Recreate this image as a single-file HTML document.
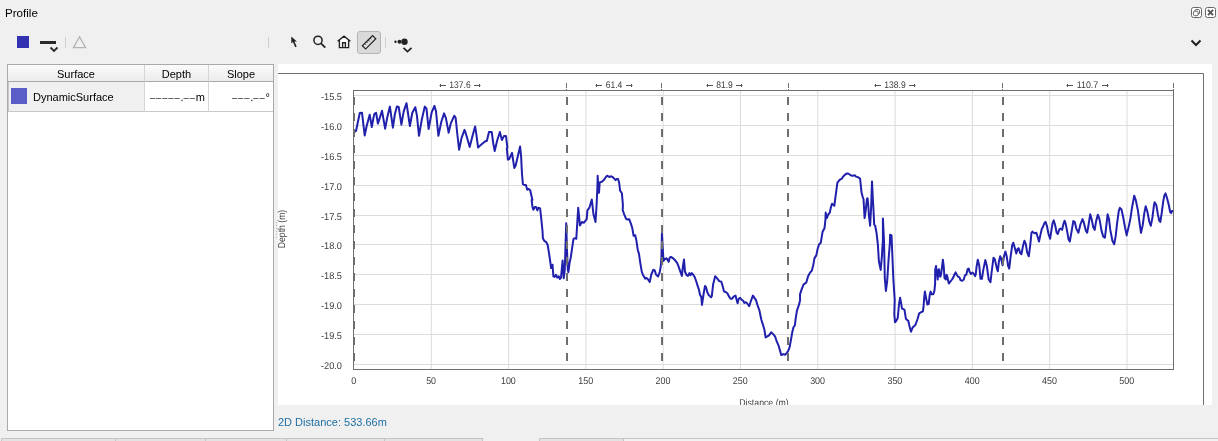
<!DOCTYPE html>
<html><head><meta charset="utf-8">
<style>
*{margin:0;padding:0;box-sizing:border-box}
html,body{width:1218px;height:441px;overflow:hidden;background:#f0f0f0;font-family:"Liberation Sans",sans-serif;color:#000}
.abs{position:absolute}
#title{left:5px;top:6px;font-size:11.6px;line-height:14px}
#left{left:7px;top:64px;width:267px;height:367px;border:1px solid #a9a9a9;background:#fff}
#plotbg{left:278px;top:64px;width:934px;height:341px;background:#fff}
#dist{left:278px;top:415px;font-size:11px;line-height:14px;color:#1f6fa3}
.th{position:absolute;top:0;height:17px;font-size:11px;line-height:18px;text-align:center;border-right:1px solid #d5d5d5;border-bottom:1px solid #a9a9a9;background:linear-gradient(#fbfbfb,#ececec)}
.dd{font-size:9.4px;letter-spacing:0.9px;position:relative;top:0px;color:#000}
.td{position:absolute;top:17px;height:30px;font-size:11px;line-height:30px;border-right:1px solid #d5d5d5;border-bottom:1px solid #c8c8c8}
</style></head><body>
<div class="abs" id="title">Profile</div>

<!-- toolbar left -->
<div class="abs" style="left:17px;top:36px;width:12px;height:12px;background:#3232b2"></div>
<div class="abs" style="left:40px;top:41px;width:16px;height:3px;background:#2a2a2a"></div>
<svg class="abs" style="left:48px;top:45px" width="14" height="9"><polyline points="2.5,2.5 6,6 9.5,2.5" fill="none" stroke="#2a2a2a" stroke-width="1.8"/></svg>
<div class="abs" style="left:65px;top:37px;width:1px;height:11px;background:#d0d0d0"></div>
<svg class="abs" style="left:72px;top:35px" width="16" height="15"><polygon points="7.5,1.8 13.6,12.6 1.4,12.6" fill="none" stroke="#b4b4b4" stroke-width="1.3"/></svg>
<div class="abs" style="left:268px;top:37px;width:1px;height:11px;background:#d0d0d0"></div>

<!-- toolbar right tools -->
<svg class="abs" style="left:286px;top:33px" width="16" height="18"><path d="M5.3,3.6 L5.3,10.6 L6.9,9.1 L9.2,14.3 L10.7,13.6 L8.4,8.6 L10.9,8.4 Z" fill="#222"/></svg>
<svg class="abs" style="left:310.5px;top:33px" width="18" height="18"><circle cx="7" cy="7.3" r="4.1" fill="none" stroke="#222" stroke-width="1.5"/><line x1="10" y1="10.3" x2="14.3" y2="14.6" stroke="#222" stroke-width="1.8"/></svg>
<svg class="abs" style="left:335px;top:33px" width="18" height="18"><path d="M4.3,8.5 L9,4 L13.7,8.5 V14.6 H4.3 Z" fill="#fff"/><path d="M2.6,8.3 L9,3.2 L15.4,8.3 M4.4,7.2 L4.4,14.6 L13.6,14.6 L13.6,7.2 M7.6,14.6 L7.6,9.8 L10.4,9.8 L10.4,14.6" fill="none" stroke="#222" stroke-width="1.4" stroke-linejoin="miter"/></svg>
<div class="abs" style="left:357px;top:31px;width:24px;height:23px;background:#dadada;border:1px solid #b5b5b5;border-radius:3px"></div>
<svg class="abs" style="left:358px;top:32px" width="22" height="21"><g transform="rotate(-45 11 10.2)"><rect x="3.8" y="8" width="14.4" height="4.6" fill="none" stroke="#222" stroke-width="1.2"/><path d="M6.8,8 v1.6 M9.4,8 v1.6 M12,8 v2 M14.6,8 v1.6" stroke="#222" stroke-width="0.9"/></g></svg>
<div class="abs" style="left:385px;top:37px;width:1px;height:11px;background:#d0d0d0"></div>
<svg class="abs" style="left:392px;top:35px" width="24" height="20"><circle cx="3.5" cy="6.8" r="1.2" fill="#222"/><circle cx="7.5" cy="6.8" r="2" fill="#222"/><circle cx="12.5" cy="6.8" r="3.2" fill="#222"/><polyline points="11.5,12.8 15.5,16.5 19.5,12.8" fill="none" stroke="#222" stroke-width="1.7"/></svg>

<!-- top right window icons -->
<svg class="abs" style="left:1190px;top:6px" width="28" height="13">
 <rect x="1.5" y="1.5" width="10" height="10" rx="2" fill="#fff" stroke="#666" stroke-width="1"/>
 <rect x="5" y="3.5" width="4.5" height="4.5" rx="1" fill="#fff" stroke="#666" stroke-width="1"/>
 <rect x="3.5" y="5.2" width="4.5" height="4.5" rx="1" fill="#fff" stroke="#666" stroke-width="1"/>
 <rect x="15.5" y="1.5" width="10" height="10" rx="2" fill="#fff" stroke="#666" stroke-width="1"/>
 <path d="M17.9,3.9 L23.1,9.1 M23.1,3.9 L17.9,9.1" stroke="#555" stroke-width="2"/>
</svg>
<svg class="abs" style="left:1189px;top:36.5px" width="16" height="12"><polyline points="2.5,3.5 7,8 11.5,3.5" fill="none" stroke="#222" stroke-width="2"/></svg>

<!-- left table panel -->
<div class="abs" id="left">
 <div class="th" style="left:0;width:137px">Surface</div>
 <div class="th" style="left:137px;width:64px">Depth</div>
 <div class="th" style="left:201px;width:64px;border-right:none">Slope</div>
 <div class="td" style="left:0;width:137px;background:#f0f0f0;border-left:1px solid #c8c8c8"></div>
 <div class="abs" style="left:3px;top:23px;width:16px;height:16px;background:#5a5ec6"></div>
 <div class="abs" style="left:25px;top:25px;font-size:11px;line-height:14px">DynamicSurface</div>
 <div class="td" style="left:137px;width:64px;text-align:right;padding-right:3px"><span class="dd">–––––</span>.<span class="dd">––</span>m</div>
 <div class="td" style="left:201px;width:64px;text-align:right;padding-right:3px;border-right:none"><span class="dd">–––</span>.<span class="dd">––</span>°</div>
</div>

<div class="abs" id="plotbg"></div>
<div class="abs" style="left:276px;top:222px;width:1px;height:1px;background:#b8b8b8"></div><div class="abs" style="left:276px;top:225px;width:1px;height:1px;background:#b8b8b8"></div><div class="abs" style="left:276px;top:228px;width:1px;height:1px;background:#b8b8b8"></div><div class="abs" style="left:276px;top:231px;width:1px;height:1px;background:#b8b8b8"></div><div class="abs" style="left:276px;top:234px;width:1px;height:1px;background:#b8b8b8"></div><div class="abs" style="left:276px;top:237px;width:1px;height:1px;background:#b8b8b8"></div>
<div class="abs" id="dist">2D Distance: 533.66m</div>

<!-- bottom tabs -->
<div class="abs" style="left:1px;top:438px;width:482px;height:3px;background:#e3e3e3;border-top:1px solid #c4c4c4"></div>
<div class="abs" style="left:115px;top:438px;width:1px;height:3px;background:#c4c4c4"></div>
<div class="abs" style="left:205px;top:438px;width:1px;height:3px;background:#c4c4c4"></div>
<div class="abs" style="left:286px;top:438px;width:1px;height:3px;background:#c4c4c4"></div>
<div class="abs" style="left:384px;top:438px;width:1px;height:3px;background:#c4c4c4"></div>
<div class="abs" style="left:1px;top:438px;width:1px;height:3px;background:#c4c4c4"></div>
<div class="abs" style="left:482px;top:438px;width:1px;height:3px;background:#c4c4c4"></div>
<div class="abs" style="left:539px;top:438px;width:85px;height:3px;background:#e3e3e3;border-top:1px solid #c4c4c4;border-left:1px solid #c4c4c4;border-right:1px solid #c4c4c4"></div>
<div class="abs" style="left:624px;top:438px;width:594px;height:3px;background:#f2f2f2;border-top:1px solid #c4c4c4"></div>

<!-- PLOT -->
<svg class="abs" id="plot" style="left:0;top:0" width="1218" height="405" font-family="Liberation Sans, sans-serif" text-rendering="geometricPrecision">
<path d="M278,73.5 H1203.5 V405" fill="none" stroke="#6e6e6e" stroke-width="1"/>
<path d="M431.30,90.5 V369.5 M508.60,90.5 V369.5 M585.90,90.5 V369.5 M663.20,90.5 V369.5 M740.50,90.5 V369.5 M817.80,90.5 V369.5 M895.10,90.5 V369.5 M972.40,90.5 V369.5 M1049.70,90.5 V369.5 M1127.00,90.5 V369.5 M353.5,95.5 H1173.5 M353.5,125.5 H1173.5 M353.5,155.5 H1173.5 M353.5,185.5 H1173.5 M353.5,215.5 H1173.5 M353.5,244.5 H1173.5 M353.5,274.5 H1173.5 M353.5,304.5 H1173.5 M353.5,334.5 H1173.5 M353.5,364.5 H1173.5" stroke="#dcdcdc" stroke-width="1" fill="none"/>
<text x="342" y="100.1" text-anchor="end" font-size="9.8" fill="#3c3c3c" textLength="21" lengthAdjust="spacingAndGlyphs">-15.5</text>
<text x="342" y="130.1" text-anchor="end" font-size="9.8" fill="#3c3c3c" textLength="21" lengthAdjust="spacingAndGlyphs">-16.0</text>
<text x="342" y="160.1" text-anchor="end" font-size="9.8" fill="#3c3c3c" textLength="21" lengthAdjust="spacingAndGlyphs">-16.5</text>
<text x="342" y="190.1" text-anchor="end" font-size="9.8" fill="#3c3c3c" textLength="21" lengthAdjust="spacingAndGlyphs">-17.0</text>
<text x="342" y="220.1" text-anchor="end" font-size="9.8" fill="#3c3c3c" textLength="21" lengthAdjust="spacingAndGlyphs">-17.5</text>
<text x="342" y="249.1" text-anchor="end" font-size="9.8" fill="#3c3c3c" textLength="21" lengthAdjust="spacingAndGlyphs">-18.0</text>
<text x="342" y="279.1" text-anchor="end" font-size="9.8" fill="#3c3c3c" textLength="21" lengthAdjust="spacingAndGlyphs">-18.5</text>
<text x="342" y="309.1" text-anchor="end" font-size="9.8" fill="#3c3c3c" textLength="21" lengthAdjust="spacingAndGlyphs">-19.0</text>
<text x="342" y="339.1" text-anchor="end" font-size="9.8" fill="#3c3c3c" textLength="21" lengthAdjust="spacingAndGlyphs">-19.5</text>
<text x="342" y="369.1" text-anchor="end" font-size="9.8" fill="#3c3c3c" textLength="21" lengthAdjust="spacingAndGlyphs">-20.0</text>
<text x="353.8" y="384" text-anchor="middle" font-size="9.8" fill="#3c3c3c" textLength="5.0" lengthAdjust="spacingAndGlyphs">0</text>
<text x="431.1" y="384" text-anchor="middle" font-size="9.8" fill="#3c3c3c" textLength="9.9" lengthAdjust="spacingAndGlyphs">50</text>
<text x="508.4" y="384" text-anchor="middle" font-size="9.8" fill="#3c3c3c" textLength="14.9" lengthAdjust="spacingAndGlyphs">100</text>
<text x="585.7" y="384" text-anchor="middle" font-size="9.8" fill="#3c3c3c" textLength="14.9" lengthAdjust="spacingAndGlyphs">150</text>
<text x="663.0" y="384" text-anchor="middle" font-size="9.8" fill="#3c3c3c" textLength="14.9" lengthAdjust="spacingAndGlyphs">200</text>
<text x="740.3" y="384" text-anchor="middle" font-size="9.8" fill="#3c3c3c" textLength="14.9" lengthAdjust="spacingAndGlyphs">250</text>
<text x="817.6" y="384" text-anchor="middle" font-size="9.8" fill="#3c3c3c" textLength="14.9" lengthAdjust="spacingAndGlyphs">300</text>
<text x="894.9" y="384" text-anchor="middle" font-size="9.8" fill="#3c3c3c" textLength="14.9" lengthAdjust="spacingAndGlyphs">350</text>
<text x="972.2" y="384" text-anchor="middle" font-size="9.8" fill="#3c3c3c" textLength="14.9" lengthAdjust="spacingAndGlyphs">400</text>
<text x="1049.5" y="384" text-anchor="middle" font-size="9.8" fill="#3c3c3c" textLength="14.9" lengthAdjust="spacingAndGlyphs">450</text>
<text x="1126.8" y="384" text-anchor="middle" font-size="9.8" fill="#3c3c3c" textLength="14.9" lengthAdjust="spacingAndGlyphs">500</text>
<text x="764" y="406" text-anchor="middle" font-size="10" fill="#3c3c3c" textLength="49.5" lengthAdjust="spacingAndGlyphs">Distance (m)</text>
<text transform="translate(284.6,229) rotate(-90)" text-anchor="middle" font-size="10" fill="#3c3c3c" textLength="38.5" lengthAdjust="spacingAndGlyphs">Depth (m)</text>
<path d="M354.5,132.0 L356.1,130.7 L358.4,119.5 L359.8,113.0 L362.0,112.7 L363.1,122.2 L364.7,135.5 L366.6,126.3 L369.7,114.7 L371.8,127.0 L373.4,118.1 L374.5,113.8 L376.1,112.7 L377.9,123.6 L379.7,118.1 L382.0,110.7 L385.1,128.7 L387.4,116.8 L389.9,106.6 L392.9,127.7 L394.9,114.0 L396.9,106.6 L398.7,107.0 L401.4,124.7 L403.7,111.3 L406.5,103.2 L409.9,126.0 L412.3,112.7 L415.3,107.2 L416.9,115.4 L419.0,135.8 L421.8,119.5 L424.8,106.6 L426.5,108.6 L428.6,129.0 L431.6,112.7 L434.4,105.9 L436.0,111.3 L438.4,135.8 L441.2,122.2 L444.1,113.4 L445.9,118.1 L448.6,132.4 L448.6,132.7 L450.9,123.1 L454.3,115.7 L455.6,117.7 L457.3,134.0 L459.1,149.7 L461.5,138.1 L464.5,129.9 L465.6,132.7 L469.7,146.9 L472.6,135.4 L475.1,126.5 L476.5,135.4 L478.1,147.6 L480.8,144.9 L484.9,141.5 L486.9,140.8 L489.0,132.0 L491.7,132.0 L493.3,143.5 L494.7,151.0 L497.1,140.8 L499.9,132.0 L501.9,140.1 L503.9,136.1 L506.0,136.1 L507.4,147.6 L506.8,148.2 L507.9,159.7 L509.2,159.1 L512.0,152.9 L514.3,167.9 L515.6,165.8 L520.1,146.5 L521.1,156.3 L522.0,174.0 L522.9,184.2 L524.2,184.9 L525.9,184.9 L527.2,189.7 L528.8,189.0 L530.2,190.3 L532.4,200.0 L531.6,199.9 L532.5,207.0 L533.3,209.7 L534.7,207.0 L536.0,207.0 L537.4,210.4 L538.4,207.7 L540.1,208.4 L541.1,217.2 L542.5,230.8 L542.9,238.2 L544.3,240.9 L546.3,242.2 L547.7,245.0 L549.0,253.1 L550.4,262.6 L551.1,268.1 L552.5,264.7 L553.4,276.3 L554.5,276.9 L555.9,274.9 L557.2,277.6 L558.6,276.3 L559.9,279.0 L561.0,277.6 L562.6,260.6 L563.7,278.3 L564.7,270.8 L565.6,243.6 L566.2,223.2 L567.0,250.4 L567.8,269.5 L568.4,272.2 L569.5,263.3 L570.8,257.2 L572.2,247.7 L573.5,238.8 L574.9,238.2 L576.3,238.8 L578.2,207.7 L579.9,225.4 L581.9,222.0 L584.0,222.7 L586.7,219.2 L587.4,210.4 L589.4,207.7 L591.8,199.5 L593.5,214.5 L595.5,222.0 L596.6,204.9 L597.4,187.2 L597.7,175.7 L598.4,192.7 L599.0,192.7 L599.7,182.4 L601.8,181.8 L603.8,180.1 L605.9,177.0 L607.2,175.7 L609.2,177.0 L610.6,176.3 L612.6,177.0 L614.0,178.4 L615.6,180.1 L616.7,179.1 L618.1,179.1 L619.2,183.1 L620.1,190.6 L621.9,193.3 L622.9,204.9 L622.7,210.0 L624.1,214.1 L626.1,218.8 L627.5,219.5 L629.2,219.2 L630.9,223.6 L632.2,227.7 L633.6,235.8 L635.2,235.2 L636.3,239.9 L637.7,249.5 L639.0,254.1 L640.4,263.6 L641.8,271.8 L643.1,275.2 L645.2,278.6 L646.5,277.9 L647.9,279.2 L649.7,282.0 L651.3,274.5 L653.3,269.7 L654.7,270.4 L656.0,274.5 L658.1,276.5 L659.7,272.4 L660.8,266.3 L661.5,255.4 L661.9,233.8 L662.9,250.8 L663.5,261.0 L664.9,259.0 L666.3,258.3 L667.6,259.7 L668.7,261.7 L669.7,257.6 L671.0,256.9 L673.1,258.3 L675.1,260.3 L677.1,262.9 L678.5,266.3 L679.9,270.4 L681.9,275.9 L682.9,266.3 L684.0,259.5 L685.0,271.8 L686.7,275.2 L688.0,275.9 L689.4,273.1 L690.5,275.2 L691.8,273.1 L693.5,275.2 L694.8,277.2 L696.2,281.3 L697.5,285.4 L698.9,289.5 L700.0,294.9 L701.2,296.7 L702.0,304.9 L703.6,294.0 L705.0,285.9 L706.0,287.2 L707.4,292.6 L709.0,295.4 L711.1,297.4 L711.8,296.1 L713.1,284.5 L715.2,276.3 L717.2,278.4 L719.2,281.1 L721.3,281.8 L722.6,285.9 L724.0,291.3 L725.6,292.0 L727.4,293.3 L728.8,296.1 L730.5,298.8 L732.2,298.8 L733.5,296.7 L735.6,295.6 L736.5,299.5 L737.6,303.3 L738.7,298.8 L740.1,297.8 L741.4,299.5 L743.1,300.8 L744.4,302.9 L745.8,302.2 L747.1,303.3 L749.2,306.3 L750.5,302.2 L752.9,295.6 L754.6,298.1 L756.0,300.1 L757.4,304.9 L759.4,310.3 L760.5,315.8 L761.4,320.0 L762.2,322.4 L764.3,329.2 L765.6,337.4 L767.0,336.7 L769.0,335.4 L771.1,332.4 L773.1,334.0 L775.2,336.7 L776.5,340.8 L778.6,345.6 L779.9,350.3 L781.3,355.1 L783.3,354.1 L785.1,354.7 L786.7,353.1 L788.1,351.0 L789.5,347.6 L790.8,340.8 L792.2,332.6 L793.5,327.2 L794.9,325.2 L795.6,319.1 L796.9,310.9 L798.3,306.8 L799.2,304.1 L800.1,300.0 L800.0,294.4 L801.8,288.9 L803.6,284.4 L806.3,282.6 L808.1,276.2 L810.0,272.6 L811.8,270.8 L813.2,265.4 L814.5,258.1 L816.3,255.4 L817.6,249.0 L819.0,244.5 L820.8,242.7 L821.8,236.3 L822.6,231.8 L824.5,228.2 L825.0,223.6 L825.4,220.0 L825.4,220.8 L825.7,212.6 L826.8,218.1 L828.2,214.7 L829.8,212.6 L830.9,207.2 L832.0,203.8 L832.9,204.5 L834.3,205.8 L835.2,199.0 L836.3,190.8 L837.4,182.7 L839.0,180.7 L840.4,179.3 L842.0,178.6 L843.1,176.6 L845.2,174.5 L847.2,173.4 L848.6,173.8 L850.6,175.2 L852.6,175.9 L854.7,175.2 L856.0,176.6 L858.1,177.2 L860.1,178.6 L860.8,185.4 L861.5,192.2 L862.5,196.3 L863.5,199.0 L864.6,218.1 L865.6,211.3 L866.9,199.0 L867.6,198.3 L868.3,205.8 L869.0,216.7 L870.1,225.0 L870.1,225.8 L871.1,208.2 L872.0,181.4 L872.9,200.0 L873.4,208.2 L874.2,224.5 L875.2,225.8 L876.5,232.7 L877.9,244.9 L878.8,260.0 L879.0,261.8 L880.7,269.9 L881.8,257.7 L882.9,240.0 L882.9,218.4 L884.0,240.8 L884.8,278.1 L885.9,291.0 L887.2,280.8 L888.6,259.1 L889.9,242.7 L890.1,234.7 L891.5,235.4 L892.2,251.7 L893.3,278.1 L894.7,300.0 L894.3,314.0 L895.0,322.2 L896.3,320.8 L897.7,318.1 L899.0,304.5 L900.1,297.7 L901.1,303.1 L902.0,308.6 L903.4,309.2 L904.5,309.9 L905.9,318.8 L907.2,320.1 L908.3,320.8 L909.2,324.9 L910.2,329.0 L911.0,331.7 L912.6,327.6 L914.0,326.3 L915.4,324.9 L917.4,319.5 L919.2,313.3 L920.8,312.4 L922.9,311.3 L923.5,307.2 L924.2,297.7 L924.9,291.6 L926.3,299.1 L927.4,304.5 L928.7,303.8 L929.7,295.0 L930.6,291.6 L931.7,294.3 L933.3,294.3 L934.4,290.9 L935.1,284.1 L935.2,269.9 L936.0,265.9 L937.0,274.0 L937.7,279.5 L938.4,269.9 L939.0,269.2 L939.7,276.1 L940.4,276.7 L941.1,274.0 L942.0,267.2 L942.9,259.7 L943.8,267.2 L944.5,278.1 L945.9,279.5 L946.5,274.7 L947.2,276.1 L947.9,279.5 L948.8,283.5 L949.9,282.2 L952.0,279.5 L953.3,277.4 L954.7,274.0 L955.6,272.4 L956.7,274.7 L958.1,276.7 L959.5,277.4 L960.5,280.1 L962.2,280.8 L963.8,279.5 L964.9,275.4 L966.3,274.7 L967.6,269.2 L968.7,268.6 L969.7,272.0 L971.0,274.0 L972.4,272.6 L973.7,273.7 L975.1,276.1 L975.8,274.0 L976.5,267.2 L977.8,259.7 L979.2,265.2 L980.5,278.8 L981.9,278.8 L983.3,269.9 L985.3,260.1 L986.7,265.2 L988.7,279.5 L990.5,282.2 L991.4,274.0 L993.5,257.7 L994.8,259.1 L996.9,268.6 L997.8,271.3 L998.9,261.8 L998.6,263.1 L1000.2,256.3 L1001.3,259.1 L1002.6,265.2 L1004.0,256.3 L1005.4,251.6 L1006.7,256.3 L1008.1,265.9 L1009.2,268.6 L1010.5,257.7 L1012.2,245.4 L1013.3,242.7 L1014.9,248.2 L1016.3,253.6 L1017.6,248.8 L1018.7,248.2 L1020.1,252.9 L1021.4,254.3 L1023.1,245.4 L1024.4,240.7 L1025.8,244.1 L1027.1,252.2 L1028.8,256.3 L1030.1,246.3 L1031.5,232.7 L1032.5,231.6 L1033.5,232.7 L1034.9,233.3 L1036.3,232.7 L1037.6,236.7 L1039.0,241.5 L1040.3,235.4 L1041.7,229.2 L1043.1,226.5 L1044.4,223.1 L1045.5,221.8 L1046.9,225.8 L1048.5,234.0 L1050.1,238.8 L1051.5,229.9 L1052.6,223.1 L1053.7,220.4 L1055.0,224.5 L1056.7,232.7 L1057.8,234.0 L1059.4,229.2 L1060.8,228.6 L1062.1,229.9 L1063.5,223.8 L1064.6,220.7 L1065.5,223.1 L1066.9,229.9 L1068.6,239.5 L1069.8,241.5 L1071.6,231.3 L1073.3,221.1 L1074.7,221.8 L1076.3,228.6 L1078.4,232.7 L1080.4,224.5 L1082.5,219.1 L1083.8,222.4 L1085.8,230.6 L1087.2,232.7 L1088.6,224.5 L1090.2,214.3 L1091.6,219.1 L1093.3,227.2 L1094.7,229.9 L1096.0,221.8 L1097.8,214.7 L1099.5,219.1 L1101.5,230.6 L1103.3,236.7 L1104.9,237.8 L1106.3,225.8 L1107.6,214.3 L1109.0,219.1 L1110.3,229.9 L1112.4,240.8 L1114.2,244.2 L1115.8,235.4 L1117.1,223.1 L1118.8,210.9 L1119.9,207.9 L1121.5,209.5 L1123.3,217.7 L1125.0,227.2 L1126.7,235.4 L1126.6,234.9 L1128.4,228.1 L1130.4,218.6 L1132.0,207.7 L1134.2,195.7 L1135.8,200.2 L1137.9,210.4 L1139.7,224.0 L1141.0,232.9 L1142.7,225.4 L1144.3,213.1 L1145.7,206.3 L1147.4,211.8 L1149.2,221.3 L1150.8,225.7 L1152.5,217.2 L1153.8,206.3 L1154.6,202.2 L1156.3,205.0 L1157.9,214.5 L1159.2,220.6 L1160.3,222.0 L1161.7,213.1 L1163.3,200.9 L1164.4,195.4 L1165.5,193.4 L1167.1,198.2 L1168.8,205.0 L1170.1,211.8 L1171.2,213.1 L1171.9,211.1 L1172.6,211.1" fill="none" stroke="#2020ac" stroke-width="2" stroke-linejoin="round" stroke-linecap="round"/>
<path d="M354,97 V369" stroke="#6e6e6e" stroke-width="2" stroke-dasharray="8 8"/>
<path d="M567,97 V369" stroke="#6e6e6e" stroke-width="2" stroke-dasharray="8 8"/>
<path d="M662,97 V369" stroke="#6e6e6e" stroke-width="2" stroke-dasharray="8 8"/>
<path d="M788,97 V369" stroke="#6e6e6e" stroke-width="2" stroke-dasharray="8 8"/>
<path d="M1003,97 V369" stroke="#6e6e6e" stroke-width="2" stroke-dasharray="8 8"/>
<path d="M566.5,83 V88 M566.5,89 V90" stroke="#6e6e6e" stroke-width="1"/>
<path d="M661.5,83 V88 M661.5,89 V90" stroke="#6e6e6e" stroke-width="1"/>
<path d="M788.5,83 V88 M788.5,89 V90" stroke="#6e6e6e" stroke-width="1"/>
<path d="M1002.5,83 V88 M1002.5,89 V90" stroke="#6e6e6e" stroke-width="1"/>
<path d="M1173.5,83 V88 M1173.5,89 V90" stroke="#6e6e6e" stroke-width="1"/>
<text x="460.0" y="88" text-anchor="middle" font-size="9.6" fill="#3c3c3c" textLength="21.4" lengthAdjust="spacingAndGlyphs">137.6</text>
<path d="M439.5,85.5 H446 M440.5,84 V87 M474,85.5 H480.5 M479.5,84 V87" stroke="#555" stroke-width="1" fill="none"/>
<text x="614.0" y="88" text-anchor="middle" font-size="9.6" fill="#3c3c3c" textLength="16.6" lengthAdjust="spacingAndGlyphs">61.4</text>
<path d="M595.5,85.5 H602 M596.5,84 V87 M626,85.5 H632.5 M631.5,84 V87" stroke="#555" stroke-width="1" fill="none"/>
<text x="724.5" y="88" text-anchor="middle" font-size="9.6" fill="#3c3c3c" textLength="16.6" lengthAdjust="spacingAndGlyphs">81.9</text>
<path d="M706.5,85.5 H713 M707.5,84 V87 M736,85.5 H742.5 M741.5,84 V87" stroke="#555" stroke-width="1" fill="none"/>
<text x="895.0" y="88" text-anchor="middle" font-size="9.6" fill="#3c3c3c" textLength="21.4" lengthAdjust="spacingAndGlyphs">138.9</text>
<path d="M874.5,85.5 H881 M875.5,84 V87 M909,85.5 H915.5 M914.5,84 V87" stroke="#555" stroke-width="1" fill="none"/>
<text x="1087.5" y="88" text-anchor="middle" font-size="9.6" fill="#3c3c3c" textLength="21.4" lengthAdjust="spacingAndGlyphs">110.7</text>
<path d="M1066.5,85.5 H1073 M1067.5,84 V87 M1102,85.5 H1108.5 M1107.5,84 V87" stroke="#555" stroke-width="1" fill="none"/>
<rect x="353.5" y="90.5" width="820.0" height="279.0" fill="none" stroke="#6e6e6e" stroke-width="1"/>
</svg>
</body></html>
